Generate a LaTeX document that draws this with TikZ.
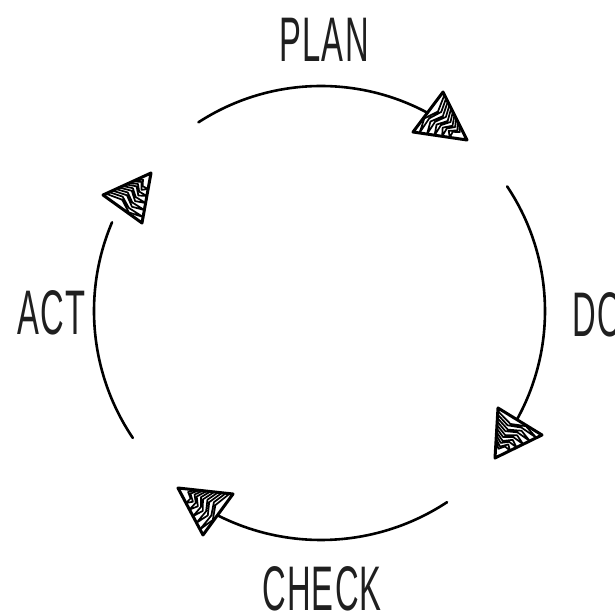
\documentclass[tikz,border=0pt]{standalone}
\usepackage{fontspec}
\usetikzlibrary{calc}
\newfontfamily\handfont[FakeStretch=0.52,LetterSpace=2]{Liberation Sans}
\tikzset{
  cyclearc/.style={line width=2.6pt, line cap=round, black},
  headline/.style={line width=3pt, line join=round, black},
  hatch/.style={line width=1.7pt, line join=round, line cap=round, black},
  label/.style={inner sep=0pt, font=\handfont\fontsize{63}{63}\selectfont, text=black!88}
}
\newcommand{\sketchhead}[3]{%
  \fill[white] (#1) -- (#2) -- (#3) -- cycle;
  \begin{scope}
    \clip (#1) -- (#2) -- (#3) -- cycle;
    \foreach \i in {0,...,4}{
      \draw[hatch] ($(#2)!{0.06+\i*0.14}!(#1)$) -- ($(#2)!0.35!(#3)!{0.16+\i*0.14}!(#1)$) -- ($(#2)!0.65!(#3)!{0.02+\i*0.14}!(#1)$) -- ($(#3)!{0.12+\i*0.14}!(#1)$) -- ($(#2)!0.6!(#3)!{0.1+\i*0.14}!(#1)$) -- ($(#2)!0.3!(#3)!{0.22+\i*0.14}!(#1)$) -- ($(#2)!{0.13+\i*0.14}!(#1)$);
    }
  \end{scope}
  \draw[headline] (#1) -- (#2) -- (#3) -- cycle;
}
\begin{document}
\begin{tikzpicture}[x=1pt,y=1pt]
  \useasboundingbox (0,0) rectangle (614,614);
  \clip (0,0) rectangle (614,614);
  \coordinate (c) at (321,303);
  % arcs
  \coordinate (p1s) at ($(c)+(123:225)$);
  \coordinate (p2s) at ($(c)+(33.8:224)$);
  \coordinate (p3s) at ($(c)+(-56.6:229)$);
  \coordinate (p4s) at ($(c)+(-146:227)$);
  \draw[cyclearc] (p1s) arc[start angle=123, end angle=60, radius=225];
  \draw[cyclearc] (p2s) arc[start angle=33.8, end angle=-30, radius=224];
  \draw[cyclearc] (p3s) arc[start angle=-56.6, end angle=-117, radius=229];
  \draw[cyclearc] (p4s) arc[start angle=-146, end angle=-203, radius=227];
  % arrow heads (tip, base1, base2)
  \coordinate (a1) at (467,474); \coordinate (b1) at (443,522); \coordinate (c1) at (413,482);
  \coordinate (a2) at (495,156); \coordinate (b2) at (498,206); \coordinate (c2) at (542,179);
  \coordinate (a3) at (178,126); \coordinate (b3) at (233,120); \coordinate (c3) at (203,79);
  \coordinate (a4) at (151,441); \coordinate (b4) at (103,419); \coordinate (c4) at (142,391);
  \sketchhead{a1}{b1}{c1}
  \sketchhead{a2}{b2}{c2}
  \sketchhead{a3}{b3}{c3}
  \sketchhead{a4}{b4}{c4}
  % labels
  \node[label, anchor=base] (plan) at (324,552) {PLAN};
  \node[label, anchor=base west] (do) at (572,277) {DO};
  \node[label, anchor=base] (check) at (322,3) {CHECK};
  \node[label, anchor=base west] (act) at (17,279) {ACT};
\end{tikzpicture}
\end{document}
